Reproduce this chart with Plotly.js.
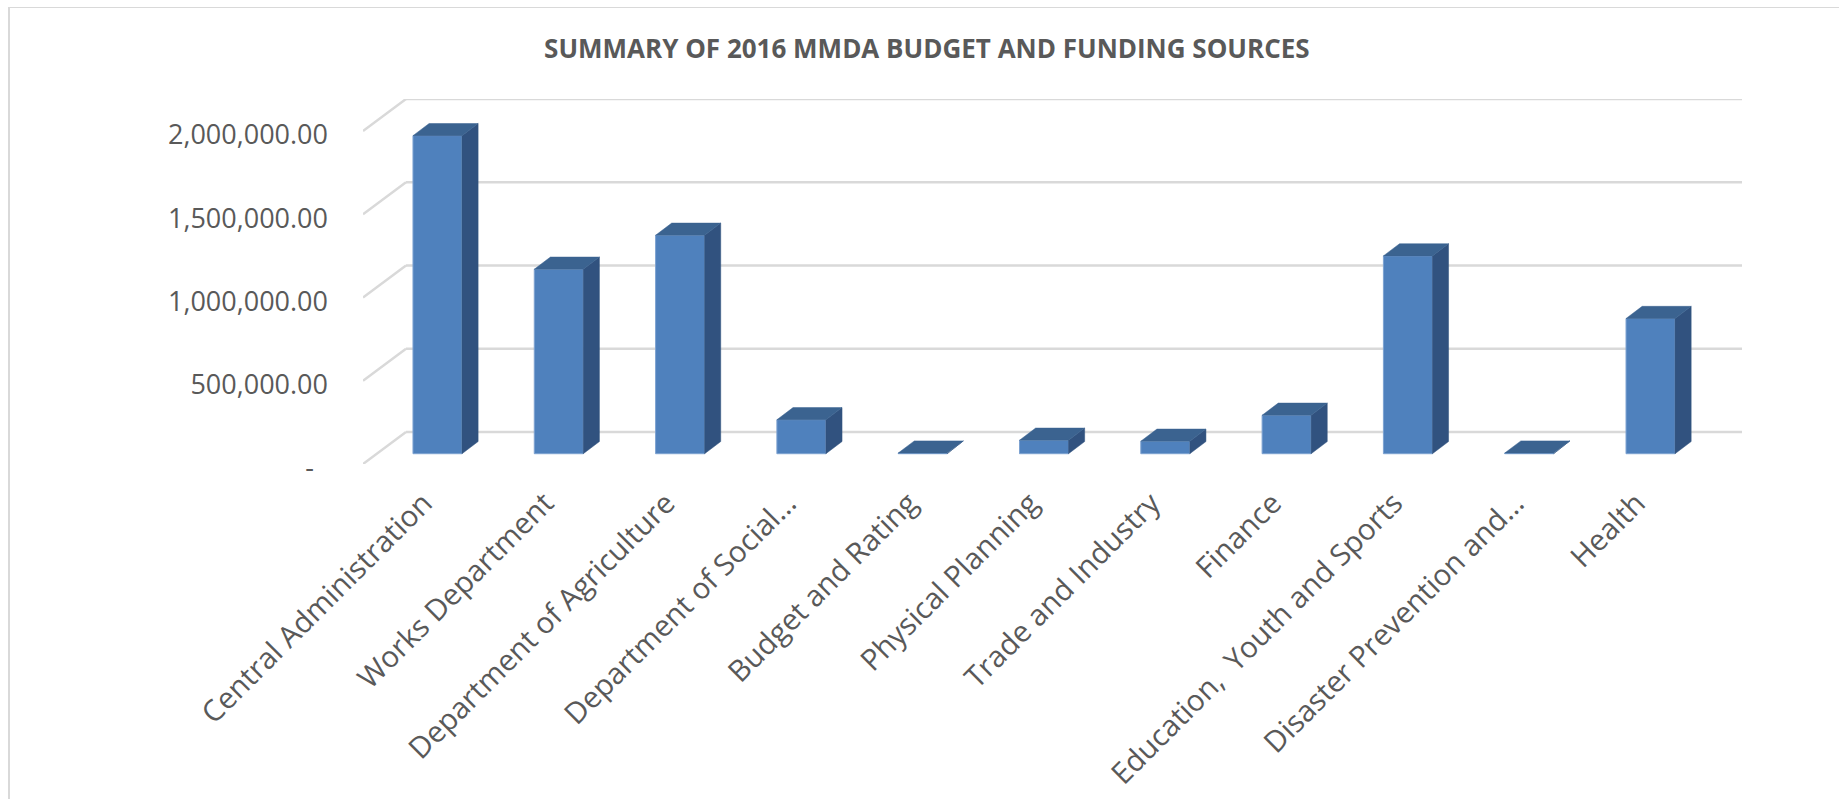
<!DOCTYPE html>
<html>
<head>
<meta charset="utf-8">
<script src="https://cdn.plot.ly/plotly-3.0.1.min.js"></script>
<style>
  html, body { margin: 0; padding: 0; background: #ffffff; overflow: hidden; }
  #frame { position: absolute; left: 8px; top: 7px; width: 1900px; height: 900px;
           border-left: 2px solid #d9d9d9; border-top: 1.5px solid #d9d9d9; }
  #chart { position: absolute; left: 0; top: 0; width: 1839px; height: 799px; }
</style>
</head>
<body>
<div id="frame"></div>
<div id="chart"></div>
<script>
// Departments and their 2016 budget allocations
const categories = [
  'Central Administration',
  'Works Department',
  'Department of Agriculture',
  'Department of Social…',
  'Budget and Rating',
  'Physical Planning',
  'Trade and Industry',
  'Finance',
  'Education,  Youth and Sports',
  'Disaster Prevention and…',
  'Health'
];
const budget = [1910000, 1108000, 1312000, 204000, 4000, 81000, 75000, 231000, 1188000, 4000, 812000];

// Value axis ticks
const tickValues = [0, 500000, 1000000, 1500000, 2000000];
const tickLabels = ['-\u00a0\u00a0', '500,000.00', '1,000,000.00', '1,500,000.00', '2,000,000.00'];

// Pseudo-3D geometry (x in category units, y in value units)
const X_MIN = -0.5, X_MAX = 10.868, Y_MAX = 2192000;
const WALL_DX = 0.3545, WALL_DY = 192000;   // depth of the floor / back wall
const FRONT_DX = 0.114, FRONT_DY = 61800;   // where the bar fronts sit in depth
const BAR_W = 0.404;                         // bar width
const BAR_DX = 0.133, BAR_DY = 73000;       // bar depth

const FRONT = '#4f81bd', SIDE = '#31527f', TOP = '#3b6390', GRID = '#d9d9d9', TEXT = '#595959';
const FONT = 'Open Sans, Noto Sans, sans-serif';

const idx = categories.map((_, i) => i);
const fx = idx.map(i => i + FRONT_DX);

// Front faces
const fronts = {
  type: 'bar', x: fx, y: budget, base: budget.map(() => FRONT_DY), width: BAR_W,
  marker: { color: FRONT, line: { color: '#7da2d1', width: 1 } },
  hoverinfo: 'skip', showlegend: false
};

// Right side faces and top faces as filled polygons
const sx = [], sy = [], tx = [], ty = [];
budget.forEach((v, i) => {
  const xl = fx[i] - BAR_W / 2, xr = fx[i] + BAR_W / 2;
  const y0 = FRONT_DY, y1 = FRONT_DY + v;
  sx.push(xr, xr + BAR_DX, xr + BAR_DX, xr, xr, null);
  sy.push(y0, y0 + BAR_DY, y1 + BAR_DY, y1, y0, null);
  tx.push(xl, xr, xr + BAR_DX, xl + BAR_DX, xl, null);
  ty.push(y1, y1, y1 + BAR_DY, y1 + BAR_DY, y1, null);
});
const sides = {
  type: 'scatter', mode: 'lines', x: sx, y: sy, fill: 'toself', fillcolor: SIDE,
  line: { color: SIDE, width: 0.5 }, hoverinfo: 'skip', showlegend: false, cliponaxis: false
};
const tops = {
  type: 'scatter', mode: 'lines', x: tx, y: ty, fill: 'toself', fillcolor: TOP,
  line: { color: TOP, width: 0.5 }, hoverinfo: 'skip', showlegend: false, cliponaxis: false
};

// Gridlines on the back wall plus their slanted run across the side wall
const shapes = [];
tickValues.forEach(v => {
  shapes.push({ type: 'line', layer: 'below', xref: 'x', yref: 'y',
    x0: X_MIN, y0: v, x1: X_MIN + WALL_DX, y1: v + WALL_DY, line: { color: GRID, width: 2.5 } });
  shapes.push({ type: 'line', layer: 'below', xref: 'x', yref: 'y',
    x0: X_MIN + WALL_DX, y0: v + WALL_DY, x1: X_MAX, y1: v + WALL_DY, line: { color: GRID, width: 2.5 } });
});

const layout = {
  width: 1839, height: 799,
  margin: { l: 363, r: 97, t: 99, b: 334.7 },
  paper_bgcolor: 'rgba(0,0,0,0)', plot_bgcolor: 'rgba(0,0,0,0)',
  title: {
    text: 'SUMMARY OF 2016 MMDA BUDGET AND FUNDING SOURCES',
    font: { family: FONT, size: 26, color: TEXT, weight: 'bold' },
    xref: 'container', x: 0.504, xanchor: 'center',
    yref: 'container', y: 0.939, yanchor: 'middle'
  },
  xaxis: {
    range: [X_MIN, X_MAX], tickmode: 'array', tickvals: idx, ticktext: categories,
    tickangle: -45, ticks: '', showgrid: false, zeroline: false, showline: false,
    automargin: false, ticklabelstandoff: 15,
    tickfont: { family: FONT, size: 29.5, color: TEXT }
  },
  yaxis: {
    range: [0, Y_MAX], tickmode: 'array', tickvals: tickValues, ticktext: tickLabels,
    ticks: '', showgrid: false, zeroline: false, showline: false,
    automargin: false, ticklabelstandoff: 34, ticklabelshift: 4,
    tickfont: { family: FONT, size: 27, color: TEXT }
  },
  shapes: shapes,
  bargap: 0, showlegend: false
};

Plotly.newPlot('chart', [fronts, sides, tops], layout, { displayModeBar: false, staticPlot: true });
</script>
</body>
</html>
